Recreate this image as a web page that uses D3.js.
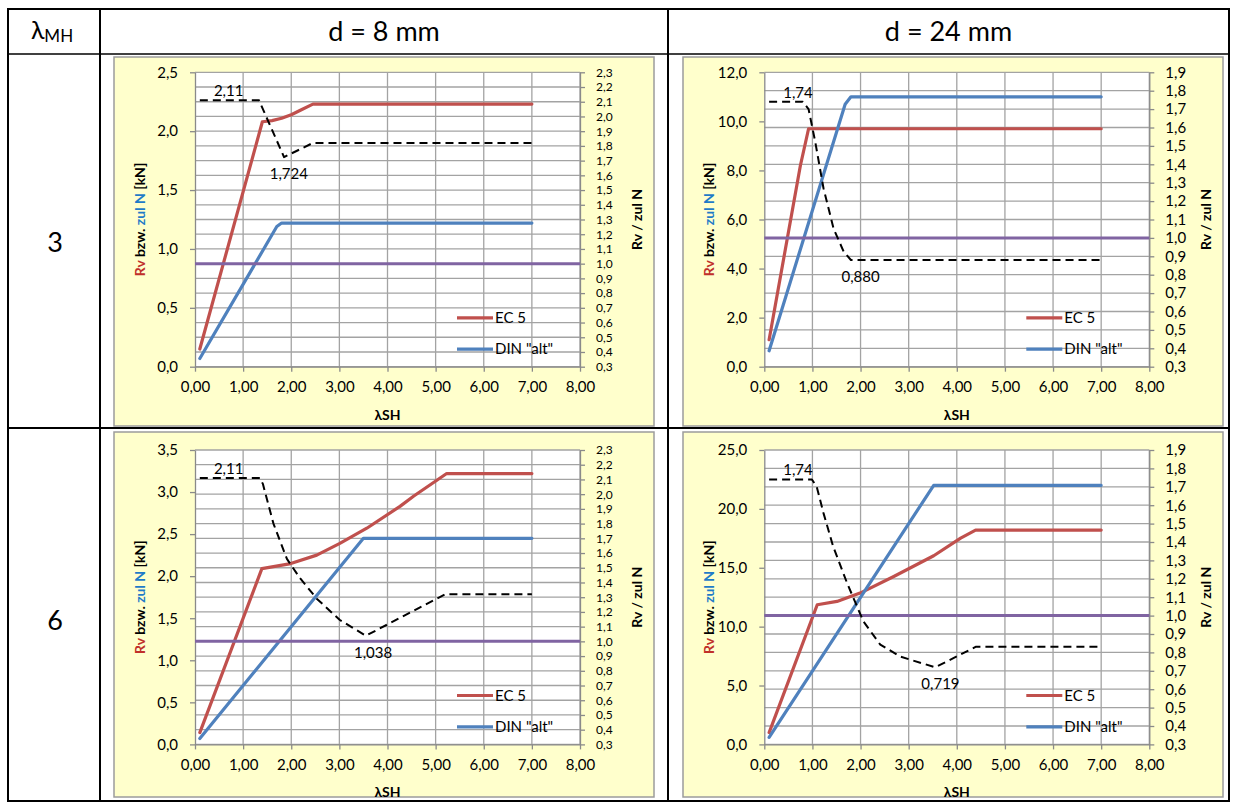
<!DOCTYPE html>
<html>
<head>
<meta charset="utf-8">
<script src="https://cdn.jsdelivr.net/npm/d3@7"></script>
<style>
  body { margin: 0; background: #fff; }
  svg { display: block; font-family: Lato, "Open Sans", sans-serif; }
</style>
</head>
<body>
<svg id="sheet" width="1234" height="805"></svg>
<script>
// ---------- axis ticks ----------
const xTicks = [0, 1, 2, 3, 4, 5, 6, 7, 8];
const rightTicksD8 = [0.3, 0.4, 0.5, 0.6, 0.7, 0.8, 0.9, 1.0, 1.1, 1.2, 1.3, 1.4, 1.5, 1.6, 1.7, 1.8, 1.9, 2.0, 2.1, 2.2, 2.3];
const rightTicksD24 = [0.3, 0.4, 0.5, 0.6, 0.7, 0.8, 0.9, 1.0, 1.1, 1.2, 1.3, 1.4, 1.5, 1.6, 1.7, 1.8, 1.9];
const leftTicksD8M3 = [0, 0.5, 1.0, 1.5, 2.0, 2.5];
const leftTicksD24M3 = [0, 2, 4, 6, 8, 10, 12];
const leftTicksD8M6 = [0, 0.5, 1.0, 1.5, 2.0, 2.5, 3.0, 3.5];
const leftTicksD24M6 = [0, 5, 10, 15, 20, 25];

// ---------- headers ----------
const columnHeads = ["d = 8 mm", "d = 24 mm"];
const rowHeads = ["3", "6"];
const seriesNames = ["EC 5", "DIN \"alt\""];

// ---------- d = 8 mm, λMH = 3 ----------
const ec5_d8_m3_x = [0.1, 1.4, 1.6, 1.8, 2.0, 2.2, 2.45, 7.0];
const ec5_d8_m3 = [0.15, 2.08, 2.09, 2.11, 2.14, 2.18, 2.23, 2.23];
const din_d8_m3_x = [0.1, 1.7, 1.8, 7.0];
const din_d8_m3 = [0.07, 1.19, 1.22, 1.22];
const ratio_d8_m3_x = [0.1, 1.33, 1.85, 2.45, 7.0];
const ratio_d8_m3 = [2.11, 2.11, 1.724, 1.82, 1.82];
const labels_d8_m3 = [["2,11", 0.7, 2.11, "above"], ["1,724", 1.95, 1.724, "below"]];

// ---------- d = 24 mm, λMH = 3 ----------
const ec5_d24_m3_x = [0.1, 0.75, 0.92, 7.0];
const ec5_d24_m3 = [1.1, 8.2, 9.7, 9.7];
const din_d24_m3_x = [0.1, 1.68, 1.8, 7.0];
const din_d24_m3 = [0.65, 10.7, 11.0, 11.0];
const ratio_d24_m3_x = [0.1, 0.8, 0.92, 1.06, 1.23, 1.44, 1.65, 1.8, 7.0];
const ratio_d24_m3 = [1.74, 1.74, 1.70, 1.52, 1.27, 1.05, 0.925, 0.88, 0.88];
const labels_d24_m3 = [["1,74", 0.7, 1.74, "above"], ["0,880", 2.0, 0.88, "below"]];

// ---------- d = 8 mm, λMH = 6 ----------
const ec5_d8_m6_x = [0.1, 1.39, 1.99, 2.53, 3.01, 3.57, 4.26, 4.54, 5.23, 7.0];
const ec5_d8_m6 = [0.14, 2.09, 2.15, 2.25, 2.39, 2.57, 2.83, 2.95, 3.22, 3.22];
const din_d8_m6_x = [0.1, 3.5, 7.0];
const din_d8_m6 = [0.07, 2.45, 2.45];
const ratio_d8_m6_x = [0.1, 1.35, 1.41, 1.63, 1.91, 2.18, 2.53, 3.01, 3.29, 3.55, 5.2, 7.0];
const ratio_d8_m6 = [2.11, 2.11, 2.07, 1.80, 1.56, 1.43, 1.29, 1.145, 1.09, 1.038, 1.32, 1.32];
const labels_d8_m6 = [["2,11", 0.7, 2.11, "above"], ["1,038", 3.7, 1.038, "below"]];

// ---------- d = 24 mm, λMH = 6 ----------
const ec5_d24_m6_x = [0.1, 1.1, 1.51, 1.99, 2.69, 3.52, 4.08, 4.39, 7.0];
const ec5_d24_m6 = [1.0, 11.86, 12.14, 12.85, 14.26, 16.02, 17.52, 18.2, 18.2];
const din_d24_m6_x = [0.1, 3.52, 7.0];
const din_d24_m6 = [0.6, 22.0, 22.0];
const ratio_d24_m6_x = [0.1, 0.99, 1.09, 1.23, 1.43, 1.72, 2.06, 2.41, 2.83, 3.55, 4.4, 7.0];
const ratio_d24_m6 = [1.74, 1.74, 1.70, 1.557, 1.376, 1.177, 0.968, 0.842, 0.777, 0.719, 0.831, 0.831];
const labels_d24_m6 = [["1,74", 0.7, 1.74, "above"], ["0,719", 3.66, 0.719, "below"]];

// reference line Rv / zul N = 1,0
const unity_x = [0, 8];
const unity = [1.0, 1.0];

// ---------- styling ----------
const C = {
  ec5: "#C0504D",
  din: "#4F81BD",
  unity: "#8064A2",
  ratio: "#000000",
  grid: "#A3A3A3",
  axis: "#8A8A8A",
  chartBg: "#FFFFCC",
  titleRed: "#C0302A",
  titleBlue: "#1F7BC8"
};
const FONT = "Lato, 'Open Sans', sans-serif";

const svg = d3.select("#sheet");
const comma = f => v => d3.format(f)(v).replace(".", ",");

// ---------- table frame ----------
const T = { l: 8, r: 1229, t: 9, b: 801, c1: 100, c2: 668, h: 54, m: 428 };
const frame = svg.append("g").attr("stroke", "#000").attr("fill", "none");
frame.append("rect").attr("x", T.l).attr("y", T.t).attr("width", T.r - T.l).attr("height", T.b - T.t).attr("stroke-width", 2);
frame.append("line").attr("x1", T.c1).attr("x2", T.c1).attr("y1", T.t).attr("y2", T.b).attr("stroke-width", 2);
frame.append("line").attr("x1", T.c2).attr("x2", T.c2).attr("y1", T.t).attr("y2", T.b).attr("stroke-width", 2);
frame.append("line").attr("x1", T.l).attr("x2", T.r).attr("y1", T.h).attr("y2", T.h).attr("stroke-width", 1.5);
frame.append("line").attr("x1", T.l).attr("x2", T.r).attr("y1", T.m).attr("y2", T.m).attr("stroke-width", 2);

// corner header λMH
const corner = svg.append("text").attr("x", 52).attr("y", 39).attr("text-anchor", "middle")
  .attr("font-size", 25).attr("fill", "#000");
corner.append("tspan").text("λ");
corner.append("tspan").attr("font-size", 17).attr("dy", 3).text("MH");

svg.selectAll("text.colhead").data(columnHeads).join("text")
  .attr("class", "colhead")
  .attr("x", (d, i) => i === 0 ? (T.c1 + T.c2) / 2 : (T.c2 + T.r) / 2)
  .attr("y", 41).attr("text-anchor", "middle").attr("font-size", 27).attr("fill", "#000")
  .text(d => d);

svg.selectAll("text.rowhead").data(rowHeads).join("text")
  .attr("class", "rowhead")
  .attr("x", 55).attr("y", (d, i) => i === 0 ? 252 : 630)
  .attr("text-anchor", "middle").attr("font-size", 27).attr("fill", "#000")
  .text(d => d);

// ---------- one chart ----------
function drawChart(cfg) {
  const g = svg.append("g");
  const P = cfg.panel, A = cfg.plot;

  g.append("rect").attr("x", P.x).attr("y", P.y).attr("width", P.w).attr("height", P.h)
    .attr("fill", C.chartBg).attr("stroke", "#9C9C9C").attr("stroke-width", 1.5);

  const x = d3.scaleLinear().domain([0, 8]).range([A.x, A.x + A.w]);
  const yL = d3.scaleLinear().domain([cfg.leftTicks[0], cfg.leftTicks[cfg.leftTicks.length - 1]]).range([A.y + A.h, A.y]);
  const yR = d3.scaleLinear().domain([cfg.rightTicks[0], cfg.rightTicks[cfg.rightTicks.length - 1]]).range([A.y + A.h, A.y]);

  g.append("rect").attr("x", A.x).attr("y", A.y).attr("width", A.w).attr("height", A.h).attr("fill", "#fff");

  // gridlines
  const grid = g.append("g").attr("stroke", C.grid).attr("stroke-width", 1.3);
  grid.selectAll("line.h").data(cfg.rightTicks).join("line").attr("class", "h")
    .attr("x1", A.x).attr("x2", A.x + A.w).attr("y1", d => yR(d)).attr("y2", d => yR(d));
  grid.selectAll("line.v").data(xTicks.slice(1)).join("line").attr("class", "v")
    .attr("x1", d => x(d)).attr("x2", d => x(d)).attr("y1", A.y).attr("y2", A.y + A.h);

  // axes
  const styleAxis = size => sel => {
    sel.selectAll(".domain").attr("stroke", C.axis).attr("stroke-width", 1.3);
    sel.selectAll(".tick line").attr("stroke", C.axis).attr("stroke-width", 1.3);
    sel.selectAll(".tick text").attr("font-size", size).attr("fill", "#000").attr("font-family", FONT);
  };
  // the dense secondary scale needs a smaller face to keep its labels apart
  const rightSize = A.h / (cfg.rightTicks.length - 1) < 16 ? 12 : 15;
  g.append("g").attr("transform", `translate(${A.x},0)`)
    .call(d3.axisLeft(yL).tickValues(cfg.leftTicks).tickSize(5).tickSizeOuter(0).tickPadding(12).tickFormat(comma(".1f")))
    .call(styleAxis(15));
  g.append("g").attr("transform", `translate(${A.x + A.w},0)`)
    .call(d3.axisRight(yR).tickValues(cfg.rightTicks).tickSize(5).tickSizeOuter(0).tickPadding(11).tickFormat(comma(".1f")))
    .call(styleAxis(rightSize));
  g.append("g").attr("transform", `translate(0,${A.y + A.h})`)
    .call(d3.axisBottom(x).tickValues(xTicks).tickSize(5).tickSizeOuter(0).tickPadding(10).tickFormat(comma(".2f")))
    .call(styleAxis(15));

  // series
  const lineL = d3.line().x(d => x(d[0])).y(d => yL(d[1]));
  const lineR = d3.line().x(d => x(d[0])).y(d => yR(d[1]));
  g.append("path").attr("d", lineL(d3.zip(cfg.ec5x, cfg.ec5))).attr("fill", "none")
    .attr("stroke", C.ec5).attr("stroke-width", 3.2).attr("stroke-linejoin", "round").attr("stroke-linecap", "round");
  g.append("path").attr("d", lineL(d3.zip(cfg.dinx, cfg.din))).attr("fill", "none")
    .attr("stroke", C.din).attr("stroke-width", 3.2).attr("stroke-linejoin", "round").attr("stroke-linecap", "round");
  g.append("path").attr("d", lineR(d3.zip(unity_x, unity))).attr("fill", "none")
    .attr("stroke", C.unity).attr("stroke-width", 3);
  g.append("path").attr("d", lineR(d3.zip(cfg.ratiox, cfg.ratio))).attr("fill", "none")
    .attr("stroke", C.ratio).attr("stroke-width", 2).attr("stroke-dasharray", "8,5").attr("stroke-linejoin", "round");

  // data labels on the ratio curve
  g.selectAll("text.dl").data(cfg.labels).join("text").attr("class", "dl")
    .attr("x", d => x(d[1]))
    .attr("y", d => yR(d[2]) + (d[3] === "above" ? -4 : 22))
    .attr("text-anchor", "middle").attr("font-size", 15).attr("fill", "#000")
    .text(d => d[0]);

  // legend
  const lg = g.append("g");
  seriesNames.forEach((name, i) => {
    const ly = A.y + 245.5 + i * 31.3;
    lg.append("line").attr("x1", A.x + 262).attr("x2", A.x + 298).attr("y1", ly).attr("y2", ly)
      .attr("stroke", i === 0 ? C.ec5 : C.din).attr("stroke-width", 3.2);
    lg.append("text").attr("x", A.x + 300).attr("y", ly + 5).attr("font-size", 15).attr("fill", "#000").text(name);
  });

  // axis titles
  const lt = g.append("text")
    .attr("transform", `translate(${A.x - 50},${A.y + A.h / 2}) rotate(-90)`)
    .attr("text-anchor", "middle").attr("font-size", 14).attr("font-weight", "bold").attr("fill", "#000");
  lt.append("tspan").attr("fill", C.titleRed).text("Rv");
  lt.append("tspan").text(" bzw. ");
  lt.append("tspan").attr("fill", C.titleBlue).text("zul N");
  lt.append("tspan").text(" [kN]");

  g.append("text")
    .attr("transform", `translate(${A.x + A.w + 62},${A.y + A.h / 2}) rotate(-90)`)
    .attr("text-anchor", "middle").attr("font-size", 14).attr("font-weight", "bold").attr("fill", "#000")
    .text("Rv / zul N");

  g.append("text").attr("x", A.x + A.w / 2).attr("y", A.y + A.h + 53)
    .attr("text-anchor", "middle").attr("font-size", 14).attr("font-weight", "bold").attr("fill", "#000")
    .text("λSH");
}

const rowTop = [57, 432];
const rowPanelH = [369, 365];
const plotTop = [72.3, 450];
const colPanelX = [114, 683];
const colPlotX = [195, 764.3];

drawChart({
  panel: { x: colPanelX[0], y: rowTop[0], w: 540, h: rowPanelH[0] },
  plot: { x: colPlotX[0], y: plotTop[0], w: 385, h: 294.4 },
  leftTicks: leftTicksD8M3, rightTicks: rightTicksD8,
  ec5x: ec5_d8_m3_x, ec5: ec5_d8_m3, dinx: din_d8_m3_x, din: din_d8_m3,
  ratiox: ratio_d8_m3_x, ratio: ratio_d8_m3, labels: labels_d8_m3
});
drawChart({
  panel: { x: colPanelX[1], y: rowTop[0], w: 540, h: rowPanelH[0] },
  plot: { x: colPlotX[1], y: plotTop[0], w: 385, h: 294.4 },
  leftTicks: leftTicksD24M3, rightTicks: rightTicksD24,
  ec5x: ec5_d24_m3_x, ec5: ec5_d24_m3, dinx: din_d24_m3_x, din: din_d24_m3,
  ratiox: ratio_d24_m3_x, ratio: ratio_d24_m3, labels: labels_d24_m3
});
drawChart({
  panel: { x: colPanelX[0], y: rowTop[1], w: 540, h: rowPanelH[1] },
  plot: { x: colPlotX[0], y: plotTop[1], w: 385, h: 294.4 },
  leftTicks: leftTicksD8M6, rightTicks: rightTicksD8,
  ec5x: ec5_d8_m6_x, ec5: ec5_d8_m6, dinx: din_d8_m6_x, din: din_d8_m6,
  ratiox: ratio_d8_m6_x, ratio: ratio_d8_m6, labels: labels_d8_m6
});
drawChart({
  panel: { x: colPanelX[1], y: rowTop[1], w: 540, h: rowPanelH[1] },
  plot: { x: colPlotX[1], y: plotTop[1], w: 385, h: 294.4 },
  leftTicks: leftTicksD24M6, rightTicks: rightTicksD24,
  ec5x: ec5_d24_m6_x, ec5: ec5_d24_m6, dinx: din_d24_m6_x, din: din_d24_m6,
  ratiox: ratio_d24_m6_x, ratio: ratio_d24_m6, labels: labels_d24_m6
});
</script>
</body>
</html>
